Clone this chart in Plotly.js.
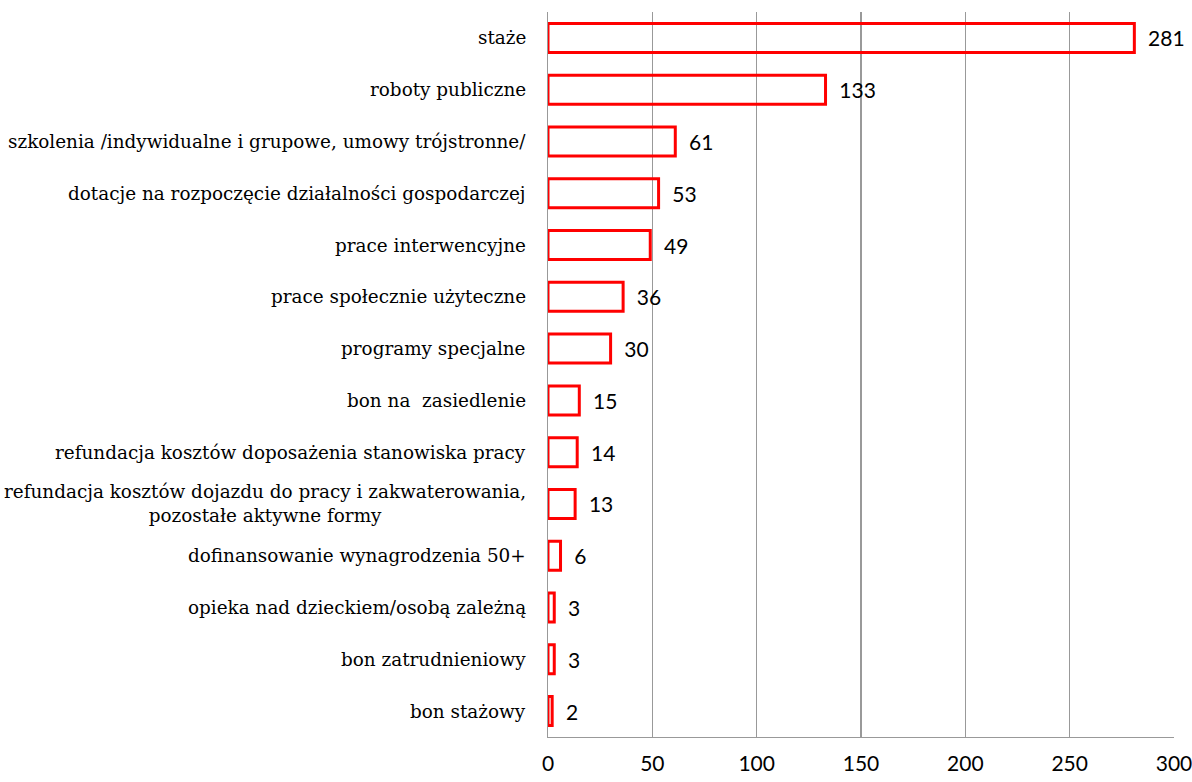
<!DOCTYPE html>
<html><head><meta charset="utf-8">
<script src="https://cdn.plot.ly/plotly-3.0.1.min.js"></script>
<style>html,body{margin:0;padding:0;background:#fff}#chart{width:1192px;height:782px}</style>
</head><body><div id="chart"></div>
<script>
const categories = [
  "staże",
  "roboty publiczne",
  "szkolenia /indywidualne i grupowe, umowy trójstronne/",
  "dotacje na rozpoczęcie działalności gospodarczej",
  "prace interwencyjne",
  "prace społecznie użyteczne",
  "programy specjalne",
  "bon na  zasiedlenie",
  "refundacja kosztów doposażenia stanowiska pracy",
  "refundacja kosztów dojazdu do pracy i zakwaterowania,<br>pozostałe aktywne formy",
  "dofinansowanie wynagrodzenia 50+",
  "opieka nad dzieckiem/osobą zależną",
  "bon zatrudnieniowy",
  "bon stażowy"
];
const values = [281, 133, 61, 53, 49, 36, 30, 15, 14, 13, 6, 3, 3, 2];
const xTicks = [0, 50, 100, 150, 200, 250, 300];

const trace = {
  type: 'bar', orientation: 'h',
  x: values, y: categories,
  marker: {color: 'rgba(255,255,255,0)', line: {color: '#ff0000', width: 3}},
  text: values.map(v => '  ' + v),
  textposition: 'outside',
  cliponaxis: false,
  constraintext: 'none',
  textfont: {family: 'Lato, "Liberation Sans", sans-serif', size: 21, color: '#000'},
  hoverinfo: 'none'
};

const annotations = categories.map(c => ({
  xref: 'paper', yref: 'y', x: 0, y: c, xanchor: 'right', yanchor: 'middle',
  xshift: -20, text: c, showarrow: false, align: 'center',
  font: {family: '"DejaVu Serif", serif', size: 18.4, color: '#000'}
}));

const layout = {
  width: 1192, height: 782,
  margin: {l: 548, r: 18, t: 12, b: 45},
  paper_bgcolor: '#fff', plot_bgcolor: '#fff',
  bargap: 0.44,
  showlegend: false,
  xaxis: {
    range: [0, 300.001], tickvals: xTicks, ticktext: xTicks.map(String),
    showgrid: true, gridcolor: '#999', gridwidth: 1.3,
    showline: true, linecolor: '#999', linewidth: 1.3, mirror: false,
    zeroline: false, ticks: '', ticklabelstandoff: 7, ticklabeloverflow: 'allow',
    tickfont: {family: 'Lato, "Liberation Sans", sans-serif', size: 21, color: '#000'}
  },
  yaxis: {
    categoryorder: 'array', categoryarray: categories.slice().reverse(),
    showticklabels: false, showgrid: false, zeroline: false,
    showline: true, linecolor: '#999', linewidth: 1.3, ticks: ''
  },
  annotations: annotations
};

Plotly.newPlot('chart', [trace], layout, {staticPlot: true});
</script></body></html>
